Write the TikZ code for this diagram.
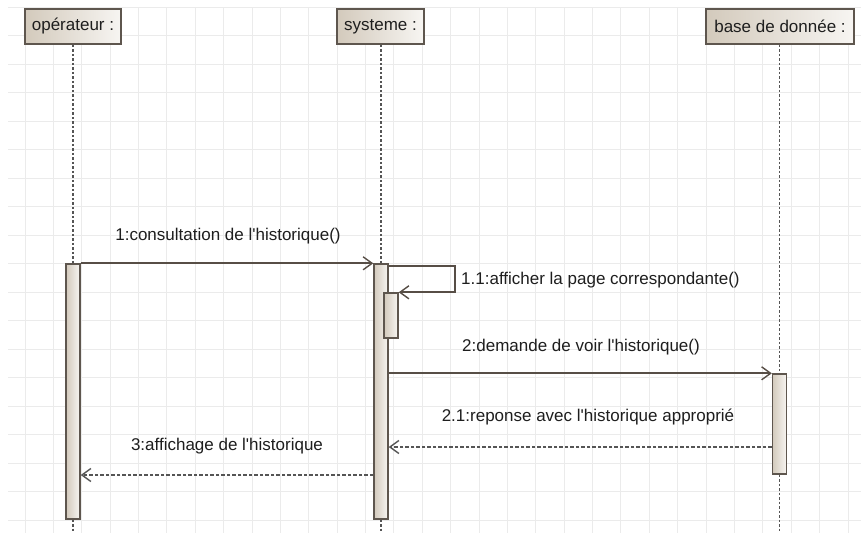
\documentclass[tikz,border=0pt]{standalone}
\usepackage{fontspec}
\setmainfont{Liberation Sans}
\usetikzlibrary{arrows.meta}
\definecolor{gridc}{HTML}{EBEBEB}
\definecolor{edge}{HTML}{5E564E}
\definecolor{boxdark}{HTML}{D3CABC}
\definecolor{boxlight}{HTML}{F7F5F2}
\definecolor{msgc}{HTML}{574E46}
\definecolor{lifec}{HTML}{555555}
\definecolor{txt}{HTML}{1E1E1E}
\newcommand{\apos}{\textquotesingle}
\tikzset{
  lbl/.style={font=\fontsize{17}{20}\selectfont, text=txt, inner sep=0pt},
  header/.style={draw=edge, line width=1.6pt, left color=boxdark, right color=boxlight,
    minimum height=35pt, inner sep=0pt, lbl},
  activation/.style={draw=edge, line width=1.4pt, left color=boxdark, right color=boxlight,
    minimum width=14pt, inner sep=0pt},
  lifeline/.style={draw=lifec, line width=1.9pt, dash pattern=on 2.5pt off 2pt},
  call/.style={draw=msgc, line width=1.9pt, -{Straight Barb[length=9pt,width=13pt,line width=1.4pt]}},
  reply/.style={draw=lifec, line width=1.7pt, dash pattern=on 3.5pt off 2pt,
    -{Straight Barb[length=9pt,width=13pt,line width=1.4pt]}}
}
\begin{document}
\begin{tikzpicture}[x=1pt,y=-1pt]
\useasboundingbox (0,0) rectangle (861,533);
\fill[white] (0,0) rectangle (861,533);
% background grid
\foreach \k in {0,...,18} \draw[gridc, line width=1pt] (8,7+28.5*\k) -- (861,7+28.5*\k);
\foreach \k in {0,...,29} \draw[gridc, line width=1pt] (25+28.38*\k,7) -- (25+28.38*\k,533);

% participants
\node[header, minimum width=96pt] (op) at (73,26.5) {opérateur :};
\node[header, minimum width=87pt] (sys) at (380.5,26.5) {systeme :};
\node[header, minimum width=148pt] (db) at (780,26.5) {base de donnée :};

% activation bars
\node[activation, minimum height=255pt] (opbar) at (73,391.5) {};
\node[activation, minimum height=255pt] (sysbar) at (381,391.5) {};
\node[activation, minimum height=100pt] (dbbar) at (779.5,424) {};

% lifelines
\draw[lifeline] (op.south -| opbar.north) -- (opbar.north);
\draw[lifeline] (opbar.south) -- (opbar.south |- 0,533);
\draw[lifeline] (sys.south -| sysbar.north) -- (sysbar.north);
\draw[lifeline] (sysbar.south) -- (sysbar.south |- 0,533);
\draw[lifeline] (db.south -| dbbar.north) -- (dbbar.north);
\draw[lifeline] (dbbar.south) -- (dbbar.south |- 0,533);

% nested activation for the self call
\node[activation, minimum height=45pt] (subbar) at (391,315.5) {};

% 1: operator -> system
\draw[call] (opbar.north east) -- (sysbar.north west);
\node[lbl] (l1) at (228,236) {1:consultation de l\apos historique()};

% 1.1: self call
\coordinate (selfa) at (455,266);
\draw[call] (sysbar.north east |- selfa) -- (selfa) |- (subbar.north east);
\node[lbl, anchor=west] (l11) at (461,280) {1.1:afficher la page correspondante()};

% 2: system -> database
\draw[call] (sysbar.east |- dbbar.north) -- (dbbar.north west);
\node[lbl] (l2) at (581,347) {2:demande de voir l\apos historique()};

% 2.1: database -> system (reply)
\coordinate (r21) at (779.5,447);
\draw[reply] (dbbar.west |- r21) -- (sysbar.east |- r21);
\node[lbl] (l21) at (588,417) {2.1:reponse avec l\apos historique approprié};

% 3: system -> operator (reply)
\coordinate (r3) at (381,475);
\draw[reply] (sysbar.west |- r3) -- (opbar.east |- r3);
\node[lbl] (l3) at (227,446) {3:affichage de l\apos historique};
\end{tikzpicture}
\end{document}
